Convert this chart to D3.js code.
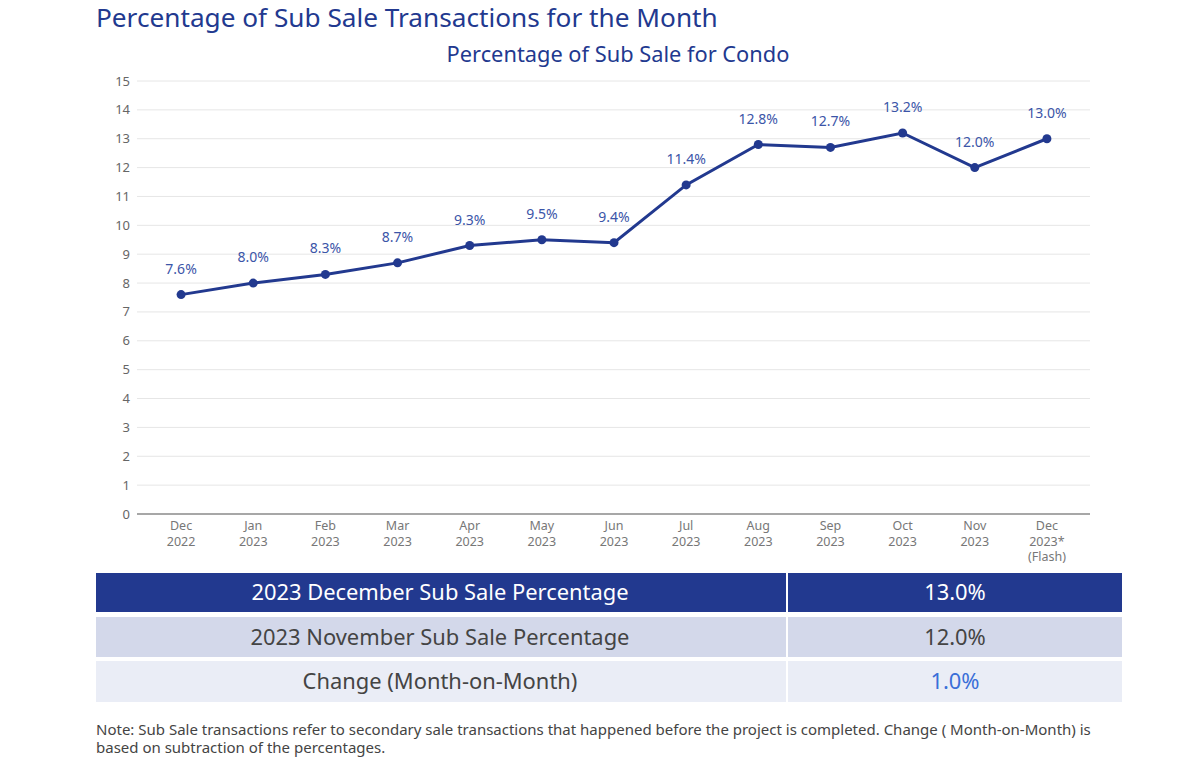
<!DOCTYPE html>
<html><head><meta charset="utf-8">
<script src="https://cdn.jsdelivr.net/npm/d3@7"></script>
<style>body{margin:0;background:#fff;font-family:"Noto Sans",sans-serif;}</style>
</head><body><svg id="c" width="1200" height="759"></svg>
<script>
const months = ["Dec","Jan","Feb","Mar","Apr","May","Jun","Jul","Aug","Sep","Oct","Nov","Dec"];
const years = ["2022","2023","2023","2023","2023","2023","2023","2023","2023","2023","2023","2023","2023*"];
const extra = ["","","","","","","","","","","","","(Flash)"];
const values = [7.6,8.0,8.3,8.7,9.3,9.5,9.4,11.4,12.8,12.7,13.2,12.0,13.0];
const yTicks = [0,1,2,3,4,5,6,7,8,9,10,11,12,13,14,15];
const tableLabels = ["2023 December Sub Sale Percentage","2023 November Sub Sale Percentage","Change (Month-on-Month)"];
const tableValues = ["13.0%","12.0%","1.0%"];

const svg = d3.select("#c");
const blue = "#22398f";
const font = "'Noto Sans', sans-serif";

svg.append("text").attr("x",96).attr("y",27).attr("fill",blue).attr("font-size",26.2).attr("font-family",font).text("Percentage of Sub Sale Transactions for the Month");
svg.append("text").attr("x",618).attr("y",62).attr("text-anchor","middle").attr("fill",blue).attr("font-size",21.8).attr("font-family",font).text("Percentage of Sub Sale for Condo");

const x = d3.scalePoint().domain(d3.range(values.length)).range([145,1083]).padding(0.5);
const y = d3.scaleLinear().domain([0,15]).range([514,81]);

const g = svg.append("g");
g.selectAll("line.grid").data(yTicks.filter(t=>t>0)).join("line")
 .attr("x1",137).attr("x2",1090).attr("y1",d=>y(d)).attr("y2",d=>y(d))
 .attr("stroke","#e6e6e6").attr("stroke-width",1);
g.append("line").attr("x1",137).attr("x2",1090).attr("y1",y(0)).attr("y2",y(0)).attr("stroke","#8a8a8a").attr("stroke-width",1.3);
g.selectAll("text.yt").data(yTicks).join("text")
 .attr("x",130).attr("y",d=>y(d)+4.5).attr("text-anchor","end").attr("fill","#666").attr("font-size",13).attr("font-family",font).text(d=>d);

const xl = g.selectAll("g.xl").data(values.map((v,i)=>i)).join("g").attr("transform",i=>`translate(${x(i)},0)`);
xl.append("text").attr("y",530).attr("text-anchor","middle").attr("fill","#777").attr("font-size",12.5).attr("font-family",font).text(i=>months[i]);
xl.append("text").attr("y",545.5).attr("text-anchor","middle").attr("fill","#777").attr("font-size",12.5).attr("font-family",font).text(i=>years[i]);
xl.append("text").attr("y",561).attr("text-anchor","middle").attr("fill","#777").attr("font-size",12.5).attr("font-family",font).text(i=>extra[i]);

const line = d3.line().x((d,i)=>x(i)).y(d=>y(d));
g.append("path").datum(values).attr("d",line).attr("fill","none").attr("stroke",blue).attr("stroke-width",3);
g.selectAll("circle").data(values).join("circle").attr("cx",(d,i)=>x(i)).attr("cy",d=>y(d)).attr("r",4.5).attr("fill",blue);
g.selectAll("text.lab").data(values).join("text").attr("x",(d,i)=>x(i)).attr("y",d=>y(d)-21)
 .attr("text-anchor","middle").attr("fill","#3b55a8").attr("font-size",14).attr("font-family",font).text(d=>d.toFixed(1)+"%");

// table
const rows = [{y:573,h:39,fill:"#22398f",tc:"#fff",vc:"#fff"},{y:617,h:40,fill:"#d3d8ea",tc:"#444",vc:"#444"},{y:661,h:41,fill:"#eaedf6",tc:"#444",vc:"#3a6fd8"}];
const tr = svg.selectAll("g.row").data(tableLabels).join("g");
tr.append("rect").attr("x",96).attr("y",(d,i)=>rows[i].y).attr("width",690).attr("height",(d,i)=>rows[i].h).attr("fill",(d,i)=>rows[i].fill);
tr.append("rect").attr("x",788).attr("y",(d,i)=>rows[i].y).attr("width",334).attr("height",(d,i)=>rows[i].h).attr("fill",(d,i)=>rows[i].fill);
tr.append("text").attr("x",440).attr("y",(d,i)=>rows[i].y+rows[i].h/2+7.5).attr("text-anchor","middle").attr("font-size",21.9).attr("font-family",font).attr("fill",(d,i)=>rows[i].tc).text(d=>d);
tr.append("text").attr("x",955).attr("y",(d,i)=>rows[i].y+rows[i].h/2+7.5).attr("text-anchor","middle").attr("font-size",21.9).attr("font-family",font).attr("fill",(d,i)=>rows[i].vc).text((d,i)=>tableValues[i]);

svg.append("text").attr("x",96).attr("y",735).attr("fill","#444").attr("font-size",15).attr("font-family",font).text("Note: Sub Sale transactions refer to secondary sale transactions that happened before the project is completed. Change ( Month-on-Month) is");
svg.append("text").attr("x",96).attr("y",753).attr("fill","#444").attr("font-size",15).attr("font-family",font).text("based on subtraction of the percentages.");
</script></body></html>
